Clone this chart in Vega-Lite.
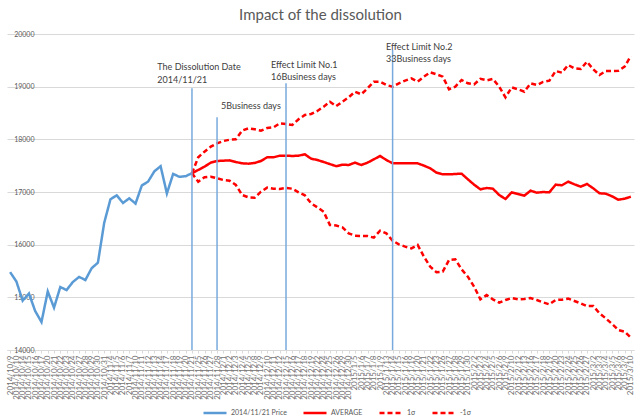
{
"$schema": "https://vega.github.io/schema/vega-lite/v6.json",
"width": 627, "height": 316,
"autosize": {"type": "none"},
"padding": {"left": 7, "top": 34, "right": 10, "bottom": 69},
"background": "white",
"config": {"font": "Lato", "view": {"stroke": null}},
"title": {"text": "Impact of the dissolution", "fontSize": 15, "fontWeight": "normal", "color": "#595959", "font": "Lato", "offset": 7, "anchor": "middle"},
"data": {"values": [
{"date":"2014/10/9","price":15478},
{"date":"2014/10/10","price":15300},
{"date":"2014/10/14","price":14936},
{"date":"2014/10/15","price":15073},
{"date":"2014/10/16","price":14738},
{"date":"2014/10/17","price":14532},
{"date":"2014/10/20","price":15111},
{"date":"2014/10/21","price":14804},
{"date":"2014/10/22","price":15195},
{"date":"2014/10/23","price":15138},
{"date":"2014/10/24","price":15291},
{"date":"2014/10/27","price":15388},
{"date":"2014/10/28","price":15329},
{"date":"2014/10/29","price":15553},
{"date":"2014/10/30","price":15658},
{"date":"2014/10/31","price":16413},
{"date":"2014/11/4","price":16862},
{"date":"2014/11/5","price":16937},
{"date":"2014/11/6","price":16792},
{"date":"2014/11/7","price":16880},
{"date":"2014/11/10","price":16780},
{"date":"2014/11/11","price":17124},
{"date":"2014/11/12","price":17197},
{"date":"2014/11/13","price":17392},
{"date":"2014/11/14","price":17490},
{"date":"2014/11/17","price":16973},
{"date":"2014/11/18","price":17344},
{"date":"2014/11/19","price":17288},
{"date":"2014/11/20","price":17300},
{"date":"2014/11/21","price":17357,"avg":17357,"up":17357,"lo":17357},
{"date":"2014/11/25","avg":17418,"up":17658,"lo":17196},
{"date":"2014/11/26","avg":17481,"up":17766,"lo":17279},
{"date":"2014/11/27","avg":17557,"up":17861,"lo":17291},
{"date":"2014/11/28","avg":17589,"up":17924,"lo":17260},
{"date":"2014/12/1","avg":17595,"up":17968,"lo":17228},
{"date":"2014/12/2","avg":17601,"up":17993,"lo":17215},
{"date":"2014/12/3","avg":17570,"up":18000,"lo":17133},
{"date":"2014/12/4","avg":17544,"up":18165,"lo":16943},
{"date":"2014/12/5","avg":17538,"up":18209,"lo":16899},
{"date":"2014/12/8","avg":17551,"up":18190,"lo":16892},
{"date":"2014/12/9","avg":17589,"up":18165,"lo":17006},
{"date":"2014/12/10","avg":17659,"up":18215,"lo":17082},
{"date":"2014/12/11","avg":17659,"up":18228,"lo":17063},
{"date":"2014/12/12","avg":17690,"up":18304,"lo":17057},
{"date":"2014/12/15","avg":17690,"up":18291,"lo":17076},
{"date":"2014/12/16","avg":17684,"up":18272,"lo":17063},
{"date":"2014/12/17","avg":17690,"up":18380,"lo":16994},
{"date":"2014/12/18","avg":17716,"up":18462,"lo":16937},
{"date":"2014/12/19","avg":17633,"up":18481,"lo":16785},
{"date":"2014/12/22","avg":17608,"up":18538,"lo":16709},
{"date":"2014/12/24","avg":17570,"up":18620,"lo":16626},
{"date":"2014/12/25","avg":17530,"up":18712,"lo":16373},
{"date":"2014/12/26","avg":17490,"up":18630,"lo":16364},
{"date":"2014/12/29","avg":17519,"up":18715,"lo":16329},
{"date":"2014/12/30","avg":17513,"up":18798,"lo":16215},
{"date":"2015/1/5","avg":17557,"up":18905,"lo":16170},
{"date":"2015/1/6","avg":17513,"up":18855,"lo":16164},
{"date":"2015/1/7","avg":17557,"up":18968,"lo":16164},
{"date":"2015/1/8","avg":17620,"up":19095,"lo":16133},
{"date":"2015/1/9","avg":17684,"up":19095,"lo":16266},
{"date":"2015/1/13","avg":17608,"up":19032,"lo":16215},
{"date":"2015/1/14","avg":17545,"up":19000,"lo":16076},
{"date":"2015/1/15","avg":17545,"up":19063,"lo":16006},
{"date":"2015/1/16","avg":17545,"up":19114,"lo":15962},
{"date":"2015/1/19","avg":17545,"up":19158,"lo":15930},
{"date":"2015/1/20","avg":17544,"up":19095,"lo":15994},
{"date":"2015/1/21","avg":17500,"up":19190,"lo":15772},
{"date":"2015/1/22","avg":17450,"up":19272,"lo":15582},
{"date":"2015/1/23","avg":17367,"up":19234,"lo":15475},
{"date":"2015/1/26","avg":17335,"up":19190,"lo":15487},
{"date":"2015/1/27","avg":17335,"up":18950,"lo":15709},
{"date":"2015/1/28","avg":17342,"up":19000,"lo":15722},
{"date":"2015/1/29","avg":17348,"up":19127,"lo":15532},
{"date":"2015/1/30","avg":17241,"up":19063,"lo":15392},
{"date":"2015/2/2","avg":17139,"up":19044,"lo":15202},
{"date":"2015/2/3","avg":17051,"up":19150,"lo":14962},
{"date":"2015/2/4","avg":17076,"up":19120,"lo":15044},
{"date":"2015/2/5","avg":17063,"up":19146,"lo":14962},
{"date":"2015/2/6","avg":16943,"up":19000,"lo":14899},
{"date":"2015/2/9","avg":16867,"up":18798,"lo":14949},
{"date":"2015/2/10","avg":16994,"up":18987,"lo":14987},
{"date":"2015/2/12","avg":16962,"up":18950,"lo":14962},
{"date":"2015/2/13","avg":16930,"up":18905,"lo":14968},
{"date":"2015/2/16","avg":17025,"up":19063,"lo":14987},
{"date":"2015/2/17","avg":16987,"up":19032,"lo":14949},
{"date":"2015/2/18","avg":17000,"up":19089,"lo":14905},
{"date":"2015/2/19","avg":16994,"up":19114,"lo":14867},
{"date":"2015/2/20","avg":17139,"up":19297,"lo":14949},
{"date":"2015/2/23","avg":17127,"up":19266,"lo":14956},
{"date":"2015/2/24","avg":17196,"up":19411,"lo":14975},
{"date":"2015/2/25","avg":17146,"up":19348,"lo":14930},
{"date":"2015/2/26","avg":17101,"up":19335,"lo":14886},
{"date":"2015/2/27","avg":17152,"up":19474,"lo":14835},
{"date":"2015/3/2","avg":17070,"up":19329,"lo":14835},
{"date":"2015/3/3","avg":16975,"up":19221,"lo":14696},
{"date":"2015/3/4","avg":16968,"up":19297,"lo":14601},
{"date":"2015/3/5","avg":16918,"up":19297,"lo":14494},
{"date":"2015/3/6","avg":16854,"up":19303,"lo":14380},
{"date":"2015/3/9","avg":16873,"up":19380,"lo":14348},
{"date":"2015/3/10","avg":16911,"up":19582,"lo":14234},
{"date":"2014/11/21","top":18969,"note":"The Dissolution Date\n2014/11/21","ny":19443},
{"date":"2014/11/28","top":18418,"note":"5Business days","ny":18714},
{"date":"2014/12/15","top":19064,"note":"Effect Limit No.1\n16Business days","ny":19493},
{"date":"2015/1/14","top":19696,"note":"Effect Limit No.2\n33Business days","ny":19835}
]},
"layer": [
{
"transform": [{"fold": ["price","avg","up","lo"], "as": ["series","value"]}, {"filter": "isValid(datum.value)"}],
"mark": {"type": "line", "strokeWidth": 2.5},
"encoding": {
"x": {"field": "date", "type": "ordinal", "sort": null, "scale": {"type": "point", "padding": 0.5},
"axis": {"title": null, "labelAngle": -90, "labelFontSize": 8, "labelColor": "#707070", "labelOverlap": false, "labelPadding": 2, "labelBound": false, "domainColor": "#d9d9d9", "tickColor": "#d9d9d9", "tickSize": 3, "grid": false}},
"y": {"field": "value", "type": "quantitative", "scale": {"domain": [14000, 20000], "nice": false, "zero": false},
"axis": {"title": null, "values": [14000,15000,16000,17000,18000,19000,20000], "format": "d", "ticks": false, "domain": false, "labelAlign": "right", "labelPadding": -27, "labelFontSize": 7, "labelColor": "#595959", "gridColor": "#d9d9d9", "gridWidth": 1}},
"color": {"field": "series", "type": "nominal", "scale": {"domain": ["price","avg","up","lo"], "range": ["#5b9bd5","#ff0000","#ff0000","#ff0000"]},
"legend": {"title": null, "orient": "none", "legendX": 195, "legendY": 366, "direction": "horizontal", "symbolType": "stroke", "symbolSize": 529, "symbolStrokeWidth": 2.5, "labelFontSize": 7, "labelColor": "#595959", "columnPadding": 11, "labelOffset": 3, "labelExpr": "{'price':'2014/11/21 Price','avg':'AVERAGE','up':'1σ','lo':'-1σ'}[datum.label]"}},
"strokeDash": {"field": "series", "type": "nominal", "scale": {"domain": ["price","avg","up","lo"], "range": [[1,0],[1,0],[5,3],[5,3]]},
"legend": {"title": null, "orient": "none", "legendX": 195, "legendY": 366, "direction": "horizontal", "symbolType": "stroke", "symbolSize": 529, "symbolStrokeWidth": 2.5, "labelFontSize": 7, "labelColor": "#595959", "columnPadding": 11, "labelOffset": 3, "labelExpr": "{'price':'2014/11/21 Price','avg':'AVERAGE','up':'1σ','lo':'-1σ'}[datum.label]"}},
"order": {"value": null}
}
},
{
"transform": [{"filter": "isValid(datum.top)"}],
"mark": {"type": "rule", "color": "#78aadd", "strokeWidth": 1.5},
"encoding": {
"x": {"field": "date", "type": "ordinal", "sort": null},
"y": {"field": "top", "type": "quantitative"},
"y2": {"datum": 14000}
}
},
{
"transform": [{"filter": "isValid(datum.note) && datum.date === '2014/11/21'"}],
"mark": {"type": "text", "align": "left", "baseline": "top", "lineBreak": "\n", "lineHeight": 12.5, "fontSize": 9, "color": "#404040", "dx": -34.6},
"encoding": {"x": {"field": "date", "type": "ordinal", "sort": null}, "y": {"field": "ny", "type": "quantitative"}, "text": {"field": "note"}}
},
{
"transform": [{"filter": "isValid(datum.note) && datum.date === '2014/11/28'"}],
"mark": {"type": "text", "align": "left", "baseline": "top", "lineBreak": "\n", "lineHeight": 12.5, "fontSize": 9, "color": "#404040", "dx": 4},
"encoding": {"x": {"field": "date", "type": "ordinal", "sort": null}, "y": {"field": "ny", "type": "quantitative"}, "text": {"field": "note"}}
},
{
"transform": [{"filter": "isValid(datum.note) && datum.date === '2014/12/15'"}],
"mark": {"type": "text", "align": "left", "baseline": "top", "lineBreak": "\n", "lineHeight": 12.5, "fontSize": 9, "color": "#404040", "dx": -15},
"encoding": {"x": {"field": "date", "type": "ordinal", "sort": null}, "y": {"field": "ny", "type": "quantitative"}, "text": {"field": "note"}}
},
{
"transform": [{"filter": "isValid(datum.note) && datum.date === '2015/1/14'"}],
"mark": {"type": "text", "align": "left", "baseline": "top", "lineBreak": "\n", "lineHeight": 12.5, "fontSize": 9, "color": "#404040", "dx": -6.6},
"encoding": {"x": {"field": "date", "type": "ordinal", "sort": null}, "y": {"field": "ny", "type": "quantitative"}, "text": {"field": "note"}}
}
]
}
